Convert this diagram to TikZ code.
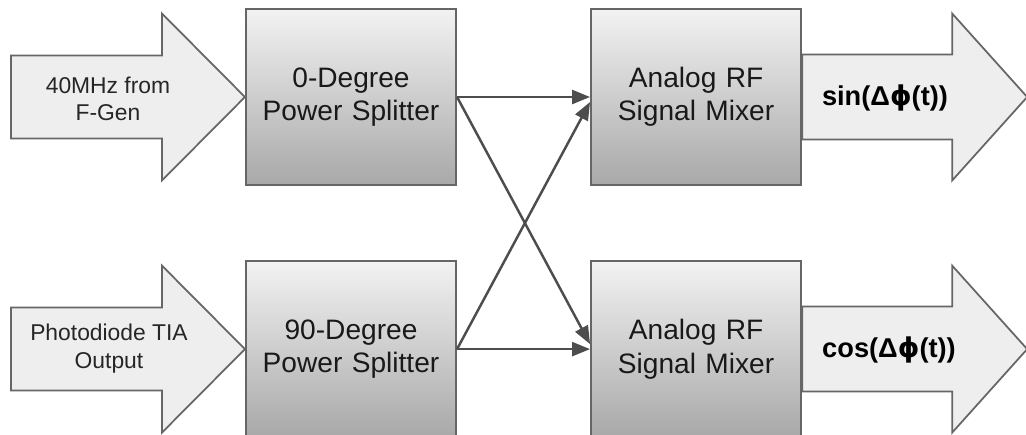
\documentclass[tikz,border=0pt]{standalone}
\usepackage{fontspec}
\setmainfont{Liberation Sans}
\newfontfamily\phifont{DejaVu Sans}
\usetikzlibrary{positioning,arrows.meta}

\definecolor{edgegray}{HTML}{666666}
\definecolor{wiregray}{HTML}{4D4D4D}
\definecolor{arrowfill}{HTML}{EEEEEE}

\begin{document}
\begin{tikzpicture}[
    block/.style={draw=edgegray, line width=1.2pt, rectangle, top color=black!5, bottom color=black!34,
        minimum width=4.2cm, minimum height=3.52cm, text width=4cm, align=center, inner sep=0pt,
        font=\fontsize{16}{19}\selectfont, text=black!90},
    bigarrow/.style={draw=edgegray, line width=1pt, fill=arrowfill, line join=miter},
    intext/.style={align=center, inner sep=0pt, font=\fontsize{13}{15.5}\selectfont, text=black!85},
    outtext/.style={inner sep=0pt, font=\fontsize{15.5}{18}\selectfont\bfseries, text=black},
    wire/.style={draw=wiregray, line width=1.4pt, -{Triangle[length=3.6mm,width=2.8mm]}}]
                \clip (0,0) rectangle (20.52,-8.68);
                \node[block] (PS0) at (7.02, -1.94) {0-Degree\\Power Splitter};
                \node[block, below =1.48cm of PS0] (PS90) {90-Degree\\Power Splitter};
                \node[block, right =2.66cm of PS0] (MixA) {Analog RF\\Signal Mixer};
                \node[block, below =1.48cm of MixA] (MixB) {Analog RF\\Signal Mixer};
                % input arrows into the splitters
                \foreach \b in {PS0, PS90}
                    \draw[bigarrow] (\b.west) -- ++(-1.66, 1.67) -- ++(0, -0.84) -- ++(-3.02, 0)
                        -- ++(0, -1.66) -- ++(3.02, 0) -- ++(0, -0.84) -- cycle;
                % output arrows from the mixers
                \foreach \b in {MixA, MixB}
                    \draw[bigarrow] (\b.east) ++(0, 0.85) -- ++(3.0, 0) -- ++(0, 0.82) -- ++(1.5, -1.67)
                        -- ++(-1.5, -1.67) -- ++(0, 0.82) -- ++(-3.0, 0) -- cycle;
                \node[intext] (Fgen) at (2.16, -1.97) {40MHz from\\F-Gen};
                \node[intext] (TIA) at (2.18, -6.97) {Photodiode TIA\\Output};
                \node[outtext] (SinOut) at (17.7, -1.96) {sin(Δ{\phifont\bfseries ϕ}(t))};
                \node[outtext] (CosOut) at (17.78, -7.0) {cos(Δ{\phifont\bfseries ϕ}(t))};
                \foreach \u / \v in {PS0/MixA, PS90/MixB}
                    \draw[wire] (\u.east) -- (\v.west);
                \draw[wire] (PS0.east) -- ([yshift=0.1cm]MixB.west);
                \draw[wire] (PS90.east) -- ([yshift=-0.1cm]MixA.west);
            \end{tikzpicture}
\end{document}
